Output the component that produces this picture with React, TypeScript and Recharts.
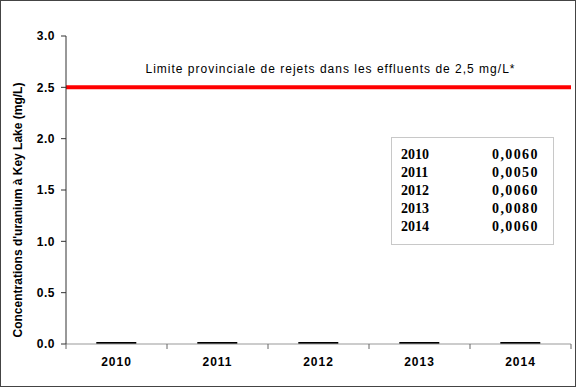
import { BarChart, Bar, XAxis, YAxis, ReferenceLine, Label } from 'recharts'

const years = ['2010', '2011', '2012', '2013', '2014']
const uranium = [0.006, 0.005, 0.006, 0.008, 0.006]
const yTicks = [0, 0.5, 1, 1.5, 2, 2.5, 3]
const limit = 2.5
const limitText = 'Limite provinciale de rejets dans les effluents de 2,5 mg/L*'
const yTitle = "Concentrations d'uranium à Key Lake (mg/L)"

const data = years.map((year, i) => ({ year, value: uranium[i] }))

const FONT = '"Liberation Sans", Arial, sans-serif'

function YearTick(props: any) {
  const { x, y, payload, index } = props
  const half = payload?.offset ?? 50.5
  return (
    <g>
      <line x1={x - half} y1={y - 8} x2={x - half} y2={y - 3} stroke="#666" />
      {index === years.length - 1 && (
        <line x1={x + half} y1={y - 8} x2={x + half} y2={y - 3} stroke="#666" />
      )}
      <text
        x={x}
        y={y + 14}
        textAnchor="middle"
        fontFamily={FONT}
        fontWeight="bold"
        fontSize={12}
        letterSpacing={1}
        fill="#000"
      >
        {payload.value}
      </text>
    </g>
  )
}

export default function App() {
  return (
    <div style={{ position: 'relative', width: 576, height: 387, background: '#fff' }}>
      <style>{'body{margin:0}'}</style>
      <BarChart
        width={576}
        height={387}
        data={data}
        margin={{ top: 36, right: 5, left: 0, bottom: 13 }}
        barCategoryGap="30%"
      >
        <XAxis
          dataKey="year"
          height={30}
          stroke="#999"
          tickLine={false}
          tick={<YearTick />}
          interval={0}
        />
        <YAxis
          width={66}
          domain={[0, 3]}
          ticks={yTicks}
          tickFormatter={(v: number) => v.toFixed(1)}
          stroke="#333"
          tickSize={5}
          tick={{ fontFamily: FONT, fontWeight: 'bold', fontSize: 12, fill: '#000', dx: -4, letterSpacing: 0.5 }}
        >
          <Label
            value={yTitle}
            angle={-90}
            position="insideLeft"
            offset={18}
            dy={20}
            style={{ textAnchor: 'middle', fontFamily: FONT, fontWeight: 'bold', fontSize: 12, fill: '#000' }}
          />
        </YAxis>
        <ReferenceLine y={limit} stroke="#ff0000" strokeWidth={4}>
          <Label
            value={limitText}
            position="top"
            offset={14}
            dx={12}
            style={{ fontFamily: FONT, fontSize: 12, fill: '#000', letterSpacing: 1 }}
          />
        </ReferenceLine>
        <Bar dataKey="value" fill="#000" minPointSize={2} isAnimationActive={false} />
      </BarChart>
      <div
        style={{
          position: 'absolute',
          left: 391,
          top: 137,
          width: 161,
          height: 98,
          border: '1px solid #c8c8c8',
          fontFamily: '"Liberation Serif", "Times New Roman", serif',
          fontWeight: 'bold',
          fontSize: 14,
          paddingTop: 8,
          boxSizing: 'content-box',
        }}
      >
        {years.map((year, i) => (
          <div key={year} style={{ display: 'flex', height: 18, lineHeight: '18px' }}>
            <span style={{ marginLeft: 9, width: 91 }}>{year}</span>
            <span style={{ letterSpacing: 1.4 }}>{uranium[i].toFixed(4).replace('.', ',')}</span>
          </div>
        ))}
      </div>
      <div
        style={{
          position: 'absolute',
          left: 0,
          top: 0,
          width: 576,
          height: 387,
          boxSizing: 'border-box',
          border: '1px solid #444',
          pointerEvents: 'none',
        }}
      />
    </div>
  )
}
